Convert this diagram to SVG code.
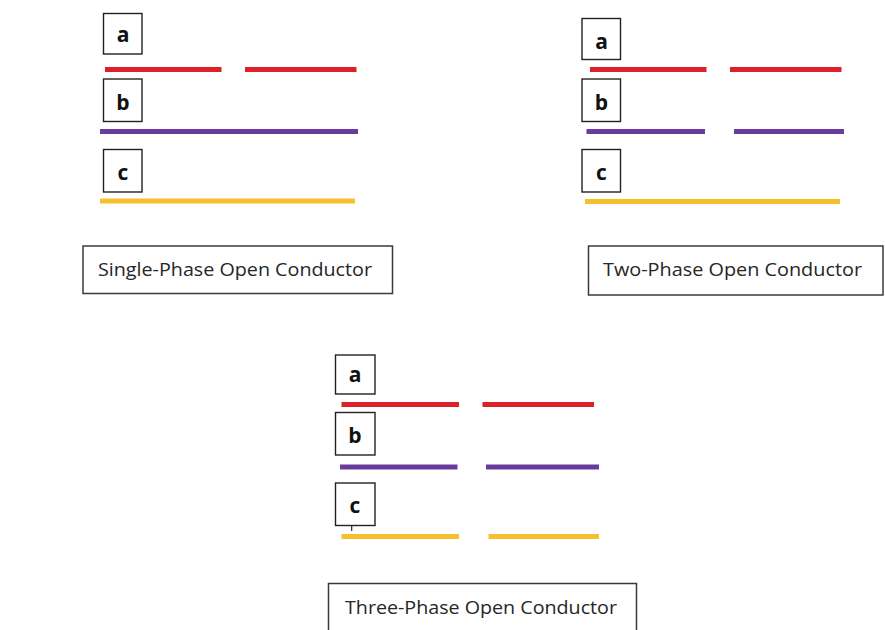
<svg xmlns="http://www.w3.org/2000/svg" width="885" height="630" viewBox="0 0 885 630">
  <style>
    .box { fill: #ffffff; stroke: #222222; stroke-width: 1.4; }
    .phase { font-family: "Open Sans", "Liberation Sans", Arial, sans-serif; font-weight: bold; font-size: 21px; fill: #111111; text-anchor: middle; }
    .cap { fill: #ffffff; stroke: #3a3a3a; stroke-width: 1.5; }
    .caption { font-family: "Open Sans", "Noto Sans", sans-serif; font-size: 18.5px; fill: #262626; }
    .wire { fill: none; stroke-width: 5; stroke-linecap: butt; }
    .a { stroke: #dc2228; }
    .b { stroke: #6a3a9e; }
    .c { stroke: #f6c02c; }
  </style>
  <rect width="885" height="630" fill="#ffffff"/>

  <!-- Single-phase open conductor -->
  <g id="single-phase">
    <g id="sp-label-a"><rect class="box" x="103.5" y="13.5" width="38.5" height="40.5"/><text class="phase" x="123" y="41.5">a</text></g>
    <g id="sp-label-b"><rect class="box" x="103.5" y="79" width="38.5" height="42.5"/><text class="phase" x="123" y="109.5">b</text></g>
    <g id="sp-label-c"><rect class="box" x="103.5" y="149.5" width="38.5" height="42.5"/><text class="phase" x="123" y="179.5">c</text></g>
  </g>

  <!-- Two-phase open conductor -->
  <g id="two-phase">
    <g id="tp-label-a"><rect class="box" x="582" y="18.5" width="38.5" height="41"/><text class="phase" x="601.5" y="48.5">a</text></g>
    <g id="tp-label-b"><rect class="box" x="582" y="79" width="38.5" height="42.5"/><text class="phase" x="601.5" y="109.5">b</text></g>
    <g id="tp-label-c"><rect class="box" x="582" y="149.5" width="38.5" height="42.5"/><text class="phase" x="601.5" y="179.5">c</text></g>
  </g>

  <!-- Three-phase open conductor -->
  <g id="three-phase">
    <g id="3p-label-a"><rect class="box" x="335.5" y="355" width="39.5" height="39"/><text class="phase" x="355" y="382">a</text></g>
    <g id="3p-label-b"><rect class="box" x="335.5" y="412.5" width="39.5" height="42.5"/><text class="phase" x="355" y="442.5">b</text></g>
    <g id="3p-label-c"><rect class="box" x="335.5" y="483" width="39.5" height="42.5"/><text class="phase" x="355" y="512.5">c</text></g>
  </g>

  <!-- Conductors -->
  <g id="connectors">
    <!-- single-phase: a open -->
    <line class="wire a" x1="105" y1="69.5" x2="221.5" y2="69.5"/>
    <line class="wire a" x1="245" y1="69.5" x2="356.5" y2="69.5"/>
    <line class="wire b" x1="100" y1="131.5" x2="358" y2="131.5"/>
    <line class="wire c" x1="100" y1="201" x2="355" y2="201"/>

    <!-- two-phase: a and b open -->
    <line class="wire a" x1="590" y1="69.5" x2="706.5" y2="69.5"/>
    <line class="wire a" x1="730" y1="69.5" x2="841.5" y2="69.5"/>
    <line class="wire b" x1="586.5" y1="131.5" x2="705" y2="131.5"/>
    <line class="wire b" x1="734" y1="131.5" x2="844" y2="131.5"/>
    <line class="wire c" x1="585" y1="201.5" x2="840" y2="201.5"/>

    <!-- three-phase: a, b and c open -->
    <line class="wire a" x1="341.5" y1="404.5" x2="459" y2="404.5"/>
    <line class="wire a" x1="482.5" y1="404.5" x2="594" y2="404.5"/>
    <line class="wire b" x1="340" y1="467" x2="457.5" y2="467"/>
    <line class="wire b" x1="486" y1="467" x2="599" y2="467"/>
    <line class="wire c" x1="341.5" y1="536.5" x2="459" y2="536.5"/>
    <line class="wire c" x1="488.5" y1="536.5" x2="599" y2="536.5"/>
    <line x1="351.7" y1="525.5" x2="351.7" y2="531" stroke="#222222" stroke-width="1.2"/>
  </g>

  <!-- Captions -->
  <g id="caption-single">
    <rect class="cap" x="83" y="246" width="309.5" height="47.5"/>
    <text class="caption" x="98" y="276" textLength="274" lengthAdjust="spacingAndGlyphs">Single-Phase Open Conductor</text>
  </g>
  <g id="caption-two">
    <rect class="cap" x="588.5" y="246" width="294.5" height="49"/>
    <text class="caption" x="603" y="276" textLength="259" lengthAdjust="spacingAndGlyphs">Two-Phase Open Conductor</text>
  </g>
  <g id="caption-three">
    <rect class="cap" x="328.5" y="583.5" width="308" height="60"/>
    <text class="caption" x="345" y="614" textLength="272" lengthAdjust="spacingAndGlyphs">Three-Phase Open Conductor</text>
  </g>
</svg>
